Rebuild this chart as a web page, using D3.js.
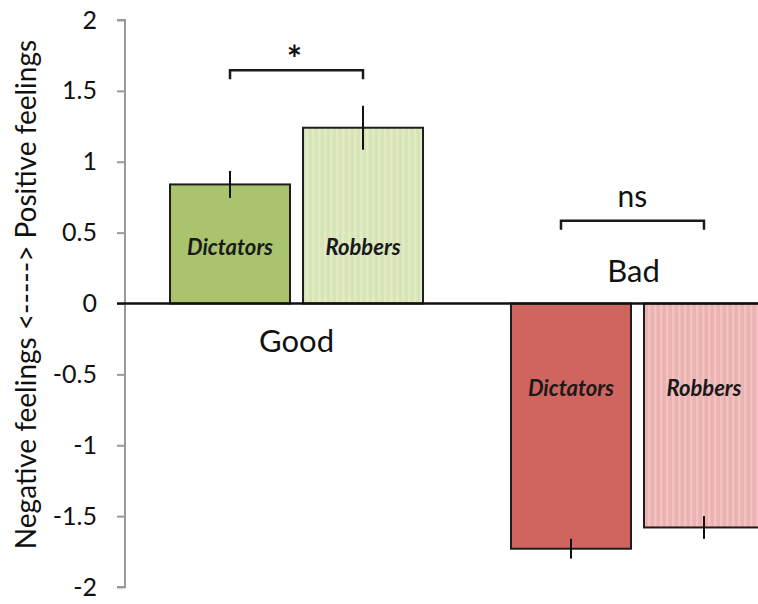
<!DOCTYPE html>
<html>
<head>
<meta charset="utf-8">
<script src="https://cdn.jsdelivr.net/npm/d3@7"></script>
<style>
  html, body { margin: 0; padding: 0; background: #fff; }
  svg { display: block; font-family: Lato, "Open Sans", sans-serif; }
</style>
</head>
<body>
<svg id="chart" width="758" height="604"></svg>
<script>
// Mean feeling ratings per group (Good / Bad) and target (Dictators / Robbers)
const groups = ["Good", "Bad"];
const targets = ["Dictators", "Robbers"];
const goodMeans = [0.84, 1.24];
const goodErrors = [0.095, 0.155];
const badMeans = [-1.73, -1.58];
const badErrors = [0.07, 0.08];
const yTicks = [2, 1.5, 1, 0.5, 0, -0.5, -1, -1.5, -2];
const yTitle = "Negative feelings <-----> Positive feelings";
const significance = ["*", "ns"];

const rows = [];
groups.forEach((g, gi) => {
  const means = gi === 0 ? goodMeans : badMeans;
  const errs = gi === 0 ? goodErrors : badErrors;
  targets.forEach((t, ti) => rows.push({ group: g, target: t, value: means[ti], err: errs[ti] }));
});

const fills = {
  Good: { Dictators: "#a9c46c", Robbers: "#d7e4b6", stripe: "#e2ebc6" },
  Bad: { Dictators: "#d0655f", Robbers: "#ebb2b1", stripe: "#f1c3c2" }
};

const svg = d3.select("#chart");

// Vertical pin-stripe textures for the Robbers bars
const defs = svg.append("defs");
groups.forEach(g => {
  const p = defs.append("pattern")
    .attr("id", "stripe-" + g)
    .attr("patternUnits", "userSpaceOnUse")
    .attr("width", 6).attr("height", 10);
  p.append("rect").attr("width", 6).attr("height", 10).attr("fill", fills[g].Robbers);
  p.append("rect").attr("x", 0).attr("width", 2.5).attr("height", 10).attr("fill", fills[g].stripe);
});

const y = d3.scaleLinear().domain([-2, 2]).range([587, 20]);
const axisX = 125;

const x0 = d3.scaleBand().domain(groups).range([axisX, 809])
  .paddingInner(0.258).paddingOuter(0.132);
const x1 = d3.scaleBand().domain(targets).range([0, x0.bandwidth()])
  .paddingInner(0.0977).paddingOuter(0);

// Y axis: grey spine with outward ticks, plain hyphen minus signs
const yAxis = d3.axisLeft(y).tickValues(yTicks).tickSize(8).tickPadding(20)
  .tickFormat(d => String(d));
const gy = svg.append("g").attr("transform", `translate(${axisX},0)`).call(yAxis);
gy.select(".domain").attr("stroke", "#9a9a9a").attr("stroke-width", 2)
  .attr("d", `M-8,${y(2)}H0V${y(-2)}H-8`);
gy.selectAll(".tick line").attr("stroke", "#9a9a9a").attr("stroke-width", 2);
gy.selectAll(".tick text").attr("font-size", 25).attr("fill", "#111")
  .attr("font-family", "Lato, sans-serif");

// Axis title
svg.append("text")
  .attr("transform", `translate(36,${y(0) - 9}) rotate(-90)`)
  .attr("text-anchor", "middle")
  .attr("font-size", 28)
  .attr("fill", "#111")
  .text(yTitle);

// Bars
const barX = d => x0(d.group) + x1(d.target);
svg.append("g").selectAll("rect").data(rows).join("rect")
  .attr("x", barX)
  .attr("y", d => y(Math.max(0, d.value)))
  .attr("width", x1.bandwidth())
  .attr("height", d => Math.abs(y(d.value) - y(0)))
  .attr("fill", d => d.target === "Robbers" ? `url(#stripe-${d.group})` : fills[d.group].Dictators)
  .attr("stroke", "#1e1e1e")
  .attr("stroke-width", 2);

// Zero baseline
svg.append("line")
  .attr("x1", axisX - 8).attr("x2", 758)
  .attr("y1", y(0)).attr("y2", y(0))
  .attr("stroke", "#111").attr("stroke-width", 2.5);

// Error bars
svg.append("g").selectAll("line").data(rows).join("line")
  .attr("x1", d => barX(d) + x1.bandwidth() / 2)
  .attr("x2", d => barX(d) + x1.bandwidth() / 2)
  .attr("y1", d => y(d.value - d.err))
  .attr("y2", d => y(d.value + d.err))
  .attr("stroke", "#111").attr("stroke-width", 2);

// Target names inside the bars
svg.append("g").selectAll("text").data(rows).join("text")
  .attr("x", d => barX(d) + x1.bandwidth() / 2)
  .attr("y", d => y(d.group === "Good" ? 0.4 : -0.6))
  .attr("dy", "0.35em")
  .attr("text-anchor", "middle")
  .attr("font-size", 22)
  .attr("font-style", "italic")
  .attr("font-weight", 700)
  .attr("fill", "#1a1a1a")
  .text(d => d.target);

// Group names
svg.append("text")
  .attr("x", x0("Good") + x0.bandwidth() / 2)
  .attr("y", y(0) + 48)
  .attr("text-anchor", "middle").attr("font-size", 31).attr("fill", "#111")
  .text("Good");
svg.append("text")
  .attr("x", x0("Bad") + x0.bandwidth() / 2 - 4)
  .attr("y", y(0) - 22)
  .attr("text-anchor", "middle").attr("font-size", 31).attr("fill", "#111")
  .text("Bad");

// Comparison brackets with significance marks
const bracketLevels = [1.646, 0.584];
groups.forEach((g, gi) => {
  const xa = x0(g) + x1("Dictators") + x1.bandwidth() / 2 - (gi === 1 ? 10 : 0);
  const xb = x0(g) + x1("Robbers") + x1.bandwidth() / 2;
  const yb = y(bracketLevels[gi]);
  svg.append("path")
    .attr("d", `M${xa},${yb + 9}V${yb}H${xb}V${yb + 9}`)
    .attr("fill", "none").attr("stroke", "#1a1a1a").attr("stroke-width", 2.5);
  svg.append("text")
    .attr("x", (xa + xb) / 2 - (gi === 0 ? 2 : 0))
    .attr("y", gi === 0 ? yb + 2 : yb - 14)
    .attr("text-anchor", "middle")
    .attr("font-size", gi === 0 ? 36 : 30)
    .attr("font-weight", gi === 0 ? 700 : 400)
    .attr("fill", "#111")
    .text(significance[gi]);
});
</script>
</body>
</html>
